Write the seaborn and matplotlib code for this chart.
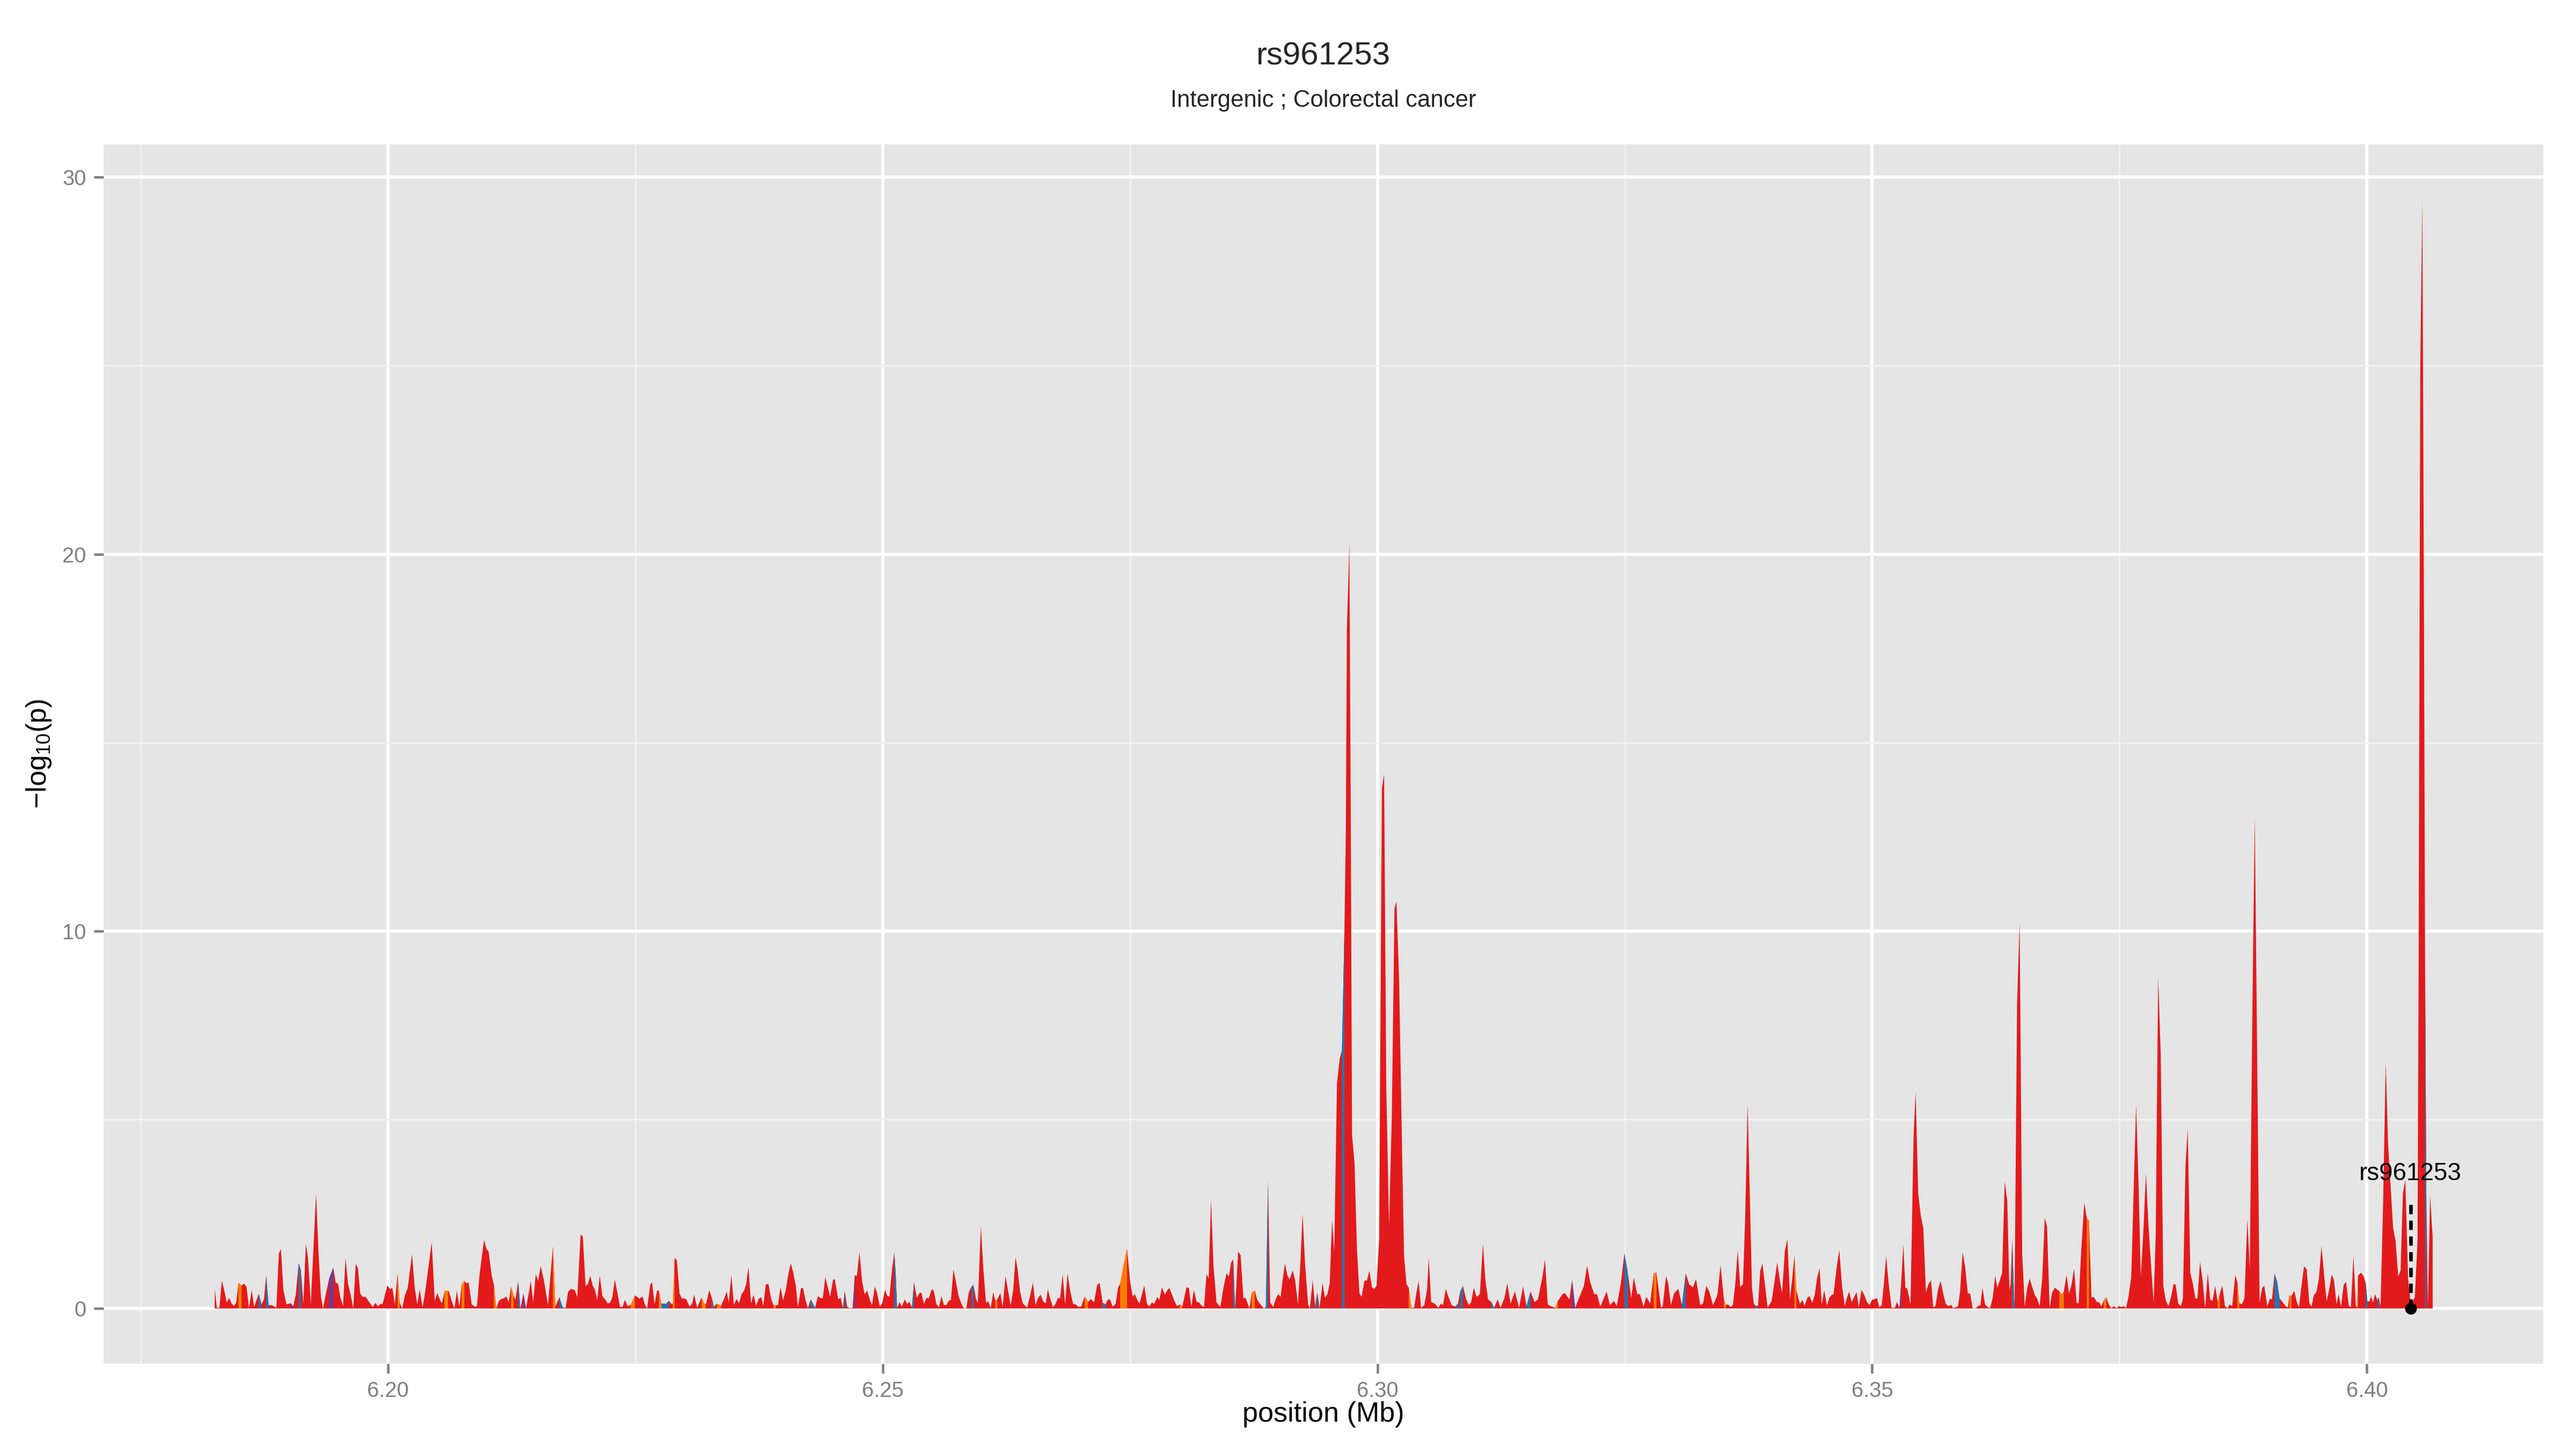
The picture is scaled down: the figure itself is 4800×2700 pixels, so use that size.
import numpy as np
import matplotlib
matplotlib.use("Agg")
import matplotlib.pyplot as plt
import seaborn as sns
from matplotlib.ticker import MultipleLocator, FormatStrFormatter

# SNP positions (kb on chr20) and -log10(p)
pos_kb = [
    6182.47, 6182.69, 6182.94, 6183.19, 6183.41, 6183.69, 6183.94, 6184.19, 6184.43, 6184.65,
    6184.87, 6185.18, 6185.43, 6185.68, 6185.93, 6186.21, 6186.45, 6186.92, 6187.20, 6187.45,
    6187.67, 6187.92, 6188.23, 6188.70, 6188.95, 6189.16, 6189.41, 6189.72, 6190.16, 6190.40,
    6190.65, 6190.96, 6191.18, 6191.43, 6191.68, 6191.90, 6192.18, 6192.43, 6192.71, 6192.96,
    6193.20, 6193.42, 6193.67, 6194.04, 6194.45, 6194.70, 6194.94, 6195.16, 6195.44, 6195.69,
    6195.94, 6196.22, 6196.47, 6196.72, 6196.94, 6197.18, 6197.43, 6197.71, 6197.93, 6198.43,
    6198.71, 6198.96, 6199.21, 6199.42, 6199.92, 6200.20, 6200.42, 6200.67, 6200.95, 6201.16,
    6201.41, 6201.69, 6201.97, 6202.41, 6202.69, 6202.94, 6203.19, 6203.47, 6203.71, 6203.93,
    6204.40, 6204.71, 6204.96, 6205.27, 6205.43, 6205.71, 6206.11, 6206.51, 6206.70, 6206.95,
    6207.20, 6207.42, 6207.70, 6207.91, 6208.13, 6208.44, 6208.75, 6208.97, 6209.22, 6209.69,
    6209.93, 6210.15, 6210.46, 6210.68, 6210.93, 6211.18, 6211.43, 6211.68, 6211.96, 6212.17,
    6212.42, 6212.67, 6212.86, 6213.14, 6213.36, 6213.67, 6213.92, 6214.17, 6214.41, 6214.66,
    6214.91, 6215.16, 6215.41, 6215.75, 6216.15, 6216.65, 6216.90, 6217.31, 6217.62, 6217.93,
    6218.18, 6218.46, 6218.86, 6219.11, 6219.45, 6219.67, 6219.95, 6220.20, 6220.42, 6220.67,
    6220.88, 6221.13, 6221.38, 6221.66, 6221.97, 6222.19, 6222.44, 6222.66, 6222.90, 6223.15,
    6223.43, 6223.68, 6223.93, 6224.21, 6224.52, 6224.93, 6225.40, 6225.71, 6225.93, 6226.17,
    6226.48, 6226.67, 6226.92, 6227.17, 6227.36, 6227.61, 6228.05, 6228.36,
    6228.64, 6228.77, 6228.95, 6229.18, 6229.44, 6229.68, 6229.94, 6230.14, 6230.45, 6230.71,
    6230.92, 6231.23, 6231.67, 6231.93, 6232.14, 6232.45, 6232.71, 6232.91, 6233.22, 6233.64,
    6233.95, 6234.21, 6234.42, 6234.68, 6234.94, 6235.20, 6235.46, 6235.71, 6235.97, 6236.18,
    6236.41, 6236.67, 6236.93, 6237.19, 6237.45, 6237.71, 6237.91, 6238.17, 6238.43, 6238.69,
    6238.95, 6239.18, 6239.39, 6239.65, 6239.91, 6240.17, 6240.42, 6240.68, 6240.94, 6241.20,
    6241.41, 6241.72, 6241.93, 6242.19, 6242.42, 6242.70, 6243.15, 6243.43, 6243.66, 6243.92,
    6244.18, 6244.41, 6244.67, 6244.96, 6245.14, 6245.48, 6245.74, 6245.94, 6246.15, 6246.38,
    6246.64, 6246.95, 6247.16, 6247.37, 6247.63, 6247.89, 6248.15, 6248.41, 6248.67, 6248.90,
    6249.18, 6249.39, 6249.70, 6249.93, 6250.22, 6250.45, 6250.66, 6250.92, 6251.15, 6251.30,
    6251.43, 6251.69, 6251.90, 6252.21, 6252.47, 6252.68, 6252.93, 6253.14, 6253.43, 6253.69,
    6253.89, 6254.15, 6254.41, 6254.62, 6254.93, 6255.14, 6255.40, 6255.66, 6255.91, 6256.17,
    6256.41, 6256.69, 6256.87, 6257.13, 6257.39, 6257.65, 6257.91, 6258.17, 6258.43, 6258.69,
    6258.95, 6259.15, 6259.39, 6259.59, 6259.90, 6260.16, 6260.42, 6260.63, 6260.89, 6261.15,
    6261.35, 6261.56, 6261.87, 6262.10, 6262.39, 6262.65, 6262.91, 6263.17, 6263.40, 6263.61,
    6263.87, 6264.13, 6264.57, 6264.85, 6265.16, 6265.42, 6265.68, 6265.94, 6266.20, 6266.46,
    6266.67, 6266.92, 6267.17, 6267.42, 6267.67, 6267.92, 6268.16, 6268.41, 6268.66, 6268.91,
    6269.22, 6269.47, 6269.78, 6270.03, 6270.40, 6270.72, 6271.03, 6271.34, 6271.65, 6271.90,
    6272.21, 6272.49, 6272.74, 6272.96, 6273.21, 6273.52, 6273.77, 6273.98, 6274.36, 6274.67,
    6274.98, 6275.23, 6275.45, 6275.70, 6275.94, 6276.19, 6276.41, 6276.69, 6276.94, 6277.19,
    6277.41, 6277.72, 6277.94, 6278.19, 6278.50, 6278.75, 6278.96, 6279.21, 6279.49, 6279.74,
    6279.99, 6280.27, 6280.67, 6280.92, 6281.17, 6281.42, 6281.70, 6281.95, 6282.23, 6282.45,
    6282.70, 6282.92, 6283.16, 6283.41, 6283.72, 6284.10, 6284.41, 6284.72, 6284.97, 6285.19,
    6285.40, 6285.59, 6285.90, 6286.15, 6286.43, 6286.65, 6287.05, 6287.27, 6287.58, 6287.83,
    6288.14, 6288.52, 6288.70, 6288.92, 6289.14, 6289.45, 6289.70, 6289.95, 6290.20, 6290.38,
    6290.63, 6290.88, 6291.10, 6291.41, 6291.66, 6291.94, 6292.19, 6292.41, 6292.66, 6292.97,
    6293.15, 6293.43, 6293.68, 6293.90, 6294.12, 6294.43, 6294.68, 6294.93, 6295.15, 6295.39,
    6295.61,
    6295.89, 6296.17, 6296.39, 6296.64, 6296.78, 6296.89, 6297.14, 6297.28, 6297.41, 6297.66,
    6297.91, 6298.16, 6298.38, 6298.66, 6298.91, 6299.16, 6299.43, 6299.68, 6299.88, 6300.15,
    6300.43, 6300.65, 6300.87, 6301.15, 6301.43, 6301.70, 6301.90, 6302.17, 6302.45, 6302.67,
    6302.92, 6303.14, 6303.42, 6303.69, 6303.89, 6304.14, 6304.39, 6304.72, 6305.00, 6305.16,
    6305.41, 6305.77, 6306.13, 6306.40, 6306.60, 6306.88, 6307.15, 6307.48, 6307.84, 6308.12,
    6308.34, 6308.62, 6308.95, 6309.23, 6309.45, 6309.72, 6310.00, 6310.33, 6310.64, 6310.89,
    6311.16, 6311.49, 6311.77, 6312.13, 6312.41, 6312.82, 6313.10, 6313.43, 6313.87, 6314.29,
    6314.70, 6315.04, 6315.45, 6315.86, 6316.20, 6316.64, 6316.91, 6317.19, 6317.52, 6317.94,
    6318.21, 6318.68, 6318.91, 6319.38, 6319.65, 6319.96, 6320.29, 6320.84, 6321.17, 6321.48,
    6321.89, 6322.17, 6322.50, 6323.14, 6323.47, 6323.89, 6324.16, 6324.58, 6324.94, 6325.27,
    6325.63, 6325.88, 6326.24, 6326.51, 6326.87, 6327.15, 6327.54, 6327.90, 6328.17, 6328.64,
    6328.81, 6329.14, 6329.36, 6329.64, 6329.97, 6330.39, 6330.75, 6331.13, 6331.49, 6331.85,
    6332.18, 6332.60, 6332.88, 6333.21, 6333.51, 6333.90, 6334.26,
    6334.35, 6334.65, 6334.98, 6335.18, 6335.40, 6335.67, 6335.90, 6336.14, 6336.39, 6336.64,
    6336.92, 6337.14, 6337.39, 6337.61, 6337.83, 6338.02, 6338.22, 6338.44, 6338.66, 6338.88,
    6339.13, 6339.41, 6339.82, 6340.10, 6340.38, 6340.65, 6340.87, 6341.15, 6341.40, 6341.68,
    6341.90, 6342.12, 6342.31, 6342.67, 6342.92, 6343.14, 6343.42, 6343.64, 6343.92, 6344.17,
    6344.41, 6344.66, 6344.88, 6345.13, 6345.41, 6345.63, 6345.91, 6346.07, 6346.38, 6346.65,
    6346.93, 6347.21, 6347.43, 6347.65, 6347.90, 6348.12, 6348.40, 6348.62, 6348.90, 6349.17,
    6349.45, 6349.70, 6349.97, 6350.25, 6350.47, 6350.69, 6350.94, 6351.16, 6351.38, 6351.66,
    6351.94, 6352.27, 6352.49, 6352.74, 6352.91, 6353.13,
    6353.33, 6353.52, 6353.85, 6354.16, 6354.37, 6354.63, 6354.89, 6355.15, 6355.41, 6355.67,
    6355.93, 6356.14, 6356.37, 6356.63, 6356.89, 6357.15, 6357.41, 6357.67, 6357.93, 6358.18,
    6358.65, 6358.86, 6359.12, 6359.38, 6359.64, 6359.87, 6360.13, 6360.47, 6360.73, 6360.91,
    6361.12, 6361.38, 6361.63, 6361.89, 6362.15, 6362.41, 6362.62, 6362.88, 6363.11, 6363.37,
    6363.63, 6363.84, 6363.97, 6364.13, 6364.36, 6364.62, 6364.88, 6365.14, 6365.40, 6365.66,
    6365.91, 6366.17, 6366.43, 6366.64, 6366.90, 6367.16, 6367.42, 6367.65, 6367.91, 6368.17,
    6368.43, 6368.69, 6368.90, 6369.16, 6369.34, 6369.62, 6369.88, 6370.12, 6370.38, 6370.64,
    6370.84, 6371.10, 6371.41, 6371.67, 6371.88, 6372.14, 6372.40, 6372.66, 6372.92, 6373.13,
    6373.39, 6373.62, 6373.88, 6374.14, 6374.40, 6374.66, 6374.92, 6375.17, 6375.43, 6375.64,
    6375.90, 6376.16, 6376.42, 6376.65, 6376.91, 6377.12, 6377.38, 6377.64, 6377.90, 6378.16,
    6378.42, 6378.63, 6378.88, 6379.14, 6379.40, 6379.66, 6379.92, 6380.18, 6380.44, 6380.65,
    6380.91, 6381.17, 6381.38, 6381.64, 6381.87, 6382.13, 6382.39, 6382.65, 6382.85, 6383.11,
    6383.37, 6383.63, 6383.89, 6384.15, 6384.38, 6384.64, 6384.90, 6385.11, 6385.37, 6385.63,
    6385.89, 6386.10, 6386.36, 6386.67, 6386.88, 6387.08, 6387.34, 6387.60, 6387.89, 6388.14,
    6388.40, 6388.64, 6388.87, 6389.13, 6389.39, 6389.60, 6389.91, 6390.17, 6390.38, 6390.64,
    6390.89, 6391.15,
    6391.54, 6391.81, 6391.99, 6392.14, 6392.35, 6392.63, 6392.90, 6393.11, 6393.35, 6393.62,
    6393.89, 6394.16, 6394.38, 6394.61, 6394.88, 6395.12, 6395.39, 6395.61, 6395.90, 6396.15,
    6396.42, 6396.64, 6396.91, 6397.11, 6397.36, 6397.63, 6397.87, 6398.14, 6398.35, 6398.62,
    6398.86, 6398.99, 6399.08, 6399.37, 6399.62, 6399.85, 6400.03, 6400.25, 6400.40, 6400.58,
    6400.81, 6401.03, 6401.17, 6401.35, 6401.61, 6401.88, 6402.11, 6402.62, 6402.87, 6403.14,
    6403.38, 6403.61, 6403.86, 6404.14, 6404.37, 6404.59, 6404.82, 6405.09, 6405.20, 6405.37,
    6405.58, 6405.75, 6405.85, 6405.98, 6406.14, 6406.36, 6406.62,
]

neg_log10_p = [
    0.51, 0.02, 0.02, 0.74, 0.51, 0.16, 0.28, 0.12, 0.07, 0.16,
    0.68, 0.61, 0.66, 0.58, 0.01, 0.49, 0.04, 0.39, 0.11, 0.25,
    0.88, 0.09, 0.09, 0.02, 1.46, 1.58, 0.49, 0.11, 0.14, 0.06,
    0.35, 1.20, 1.01, 0.13, 1.72, 1.34, 0.13, 1.49, 3.06, 1.49,
    0.32, 0.00, 0.35, 0.80, 1.08, 0.68, 0.66, 0.30, 0.06, 1.34,
    0.66, 0.35, 0.01, 1.18, 1.08, 0.39, 0.31, 0.31, 0.23, 0.04,
    0.15, 0.06, 0.12, 0.11, 0.61, 0.51, 0.55, 0.11, 0.93, 0.16,
    0.00, 0.35, 0.54, 1.44, 0.54, 0.11, 0.51, 0.03, 0.39, 0.82,
    1.76, 0.20, 0.41, 0.21, 0.14, 0.47, 0.47, 0.13, 0.01, 0.47,
    0.04, 0.63, 0.73, 0.67, 0.69, 0.11, 0.05, 0.06, 0.87, 1.82,
    1.58, 1.51, 0.88, 0.63, 0.00, 0.20, 0.25, 0.27, 0.32, 0.16,
    0.58, 0.35, 0.23, 0.73, 0.00, 0.40, 0.00, 0.35, 0.73, 0.16,
    0.91, 0.73, 1.13, 0.73, 0.09, 1.65, 0.06, 0.30, 0.04, 0.01,
    0.44, 0.52, 0.49, 0.30, 1.96, 1.91, 0.59, 0.66, 0.87, 0.61,
    0.51, 0.23, 0.87, 0.32, 0.23, 0.13, 0.16, 0.30, 0.77, 0.44,
    0.04, 0.04, 0.23, 0.06, 0.10, 0.35, 0.26, 0.32, 0.11, 0.00,
    0.63, 0.70, 0.11, 0.47, 0.48, 0.12, 0.12, 0.20,
    0.12, 0.12, 1.35, 1.27, 0.40, 0.26, 0.27, 0.24, 0.05, 0.12,
    0.37, 0.02, 0.29, 0.13, 0.13, 0.49, 0.28, 0.05, 0.13, 0.07,
    0.26, 0.45, 0.16, 0.89, 0.09, 0.25, 0.14, 0.38, 0.47, 0.65,
    1.10, 0.14, 0.36, 0.07, 0.26, 0.30, 0.07, 0.64, 0.65, 0.27,
    0.08, 0.09, 0.09, 0.57, 0.22, 0.47, 0.88, 1.20, 0.95, 0.60,
    0.03, 0.54, 0.54, 0.21, 0.01, 0.24, 0.02, 0.33, 0.28, 0.27,
    0.83, 0.59, 0.31, 0.77, 0.77, 0.25, 0.28, 0.02, 0.46, 0.05,
    0.01, 0.02, 0.88, 0.86, 1.50, 0.74, 0.38, 0.47, 0.24, 0.09,
    0.58, 0.43, 0.05, 0.14, 0.50, 0.33, 0.32, 1.04, 1.49, 0.88,
    0.02, 0.17, 0.05, 0.24, 0.12, 0.18, 0.02, 0.70, 0.28, 0.41,
    0.42, 0.12, 0.29, 0.26, 0.51, 0.47, 0.12, 0.03, 0.33, 0.09,
    0.09, 0.22, 0.22, 1.04, 0.69, 0.33, 0.14, 0.01, 0.01, 0.44,
    0.58, 0.63, 0.27, 0.14, 2.18, 1.02, 0.14, 0.20, 0.01, 0.43,
    0.21, 0.24, 0.41, 0.03, 0.86, 0.47, 0.08, 0.50, 1.36, 1.04,
    0.43, 0.14, 0.02, 0.31, 0.69, 0.09, 0.28, 0.37, 0.18, 0.14,
    0.51, 0.25, 0.04, 0.11, 0.27, 0.28, 0.91, 0.11, 0.93, 0.49,
    0.12, 0.11, 0.04, 0.05, 0.32, 0.17, 0.25, 0.16, 0.63, 0.68,
    0.15, 0.11, 0.24, 0.24, 0.05, 0.12, 0.56, 0.66, 1.20, 1.58,
    0.73, 0.32, 0.38, 0.23, 0.13, 0.39, 0.61, 0.11, 0.06, 0.16,
    0.12, 0.30, 0.23, 0.56, 0.37, 0.49, 0.54, 0.37, 0.18, 0.06,
    0.11, 0.06, 0.56, 0.55, 0.04, 0.49, 0.18, 0.16, 0.07, 0.04,
    0.91, 0.80, 2.89, 1.11, 0.16, 0.04, 0.54, 0.93, 0.85, 1.23,
    1.30, 0.00, 1.51, 1.41, 0.28, 0.28, 0.00, 0.42, 0.48, 0.23,
    0.11, 0.00, 0.05, 3.39, 0.16, 0.04, 0.25, 0.38, 0.31, 0.73,
    1.20, 0.87, 0.77, 1.01, 0.75, 0.11, 1.20, 2.51, 1.20, 0.11,
    0.00, 0.75, 0.06, 0.44, 0.00, 0.68, 0.28, 0.39, 0.66, 2.34,
    1.51,
    5.98, 6.63, 6.85, 10.00, 12.60, 18.00, 20.30, 13.20, 4.60, 3.87,
    1.55, 0.40, 0.31, 0.74, 0.74, 1.00, 0.56, 0.52, 0.60, 1.84,
    13.80, 14.17, 5.90, 2.20, 5.10, 10.60, 10.80, 8.70, 4.45, 1.38,
    0.64, 0.55, 0.02, 0.02, 0.38, 0.73, 0.02, 0.09, 0.52, 1.34,
    0.17, 0.13, 0.02, 0.13, 0.09, 0.52, 0.31, 0.09, 0.05, 0.13,
    0.45, 0.60, 0.24, 0.09, 0.17, 0.55, 0.31, 0.38, 1.72, 0.74,
    0.24, 0.17, 0.02, 0.24, 0.02, 0.28, 0.67, 0.13, 0.45, 0.02,
    0.59, 0.06, 0.45, 0.17, 0.24, 0.82, 1.30, 0.11, 0.06, 0.02,
    0.20, 0.38, 0.41, 0.24, 0.76, 0.02, 0.24, 0.60, 1.14, 0.70,
    0.38, 0.38, 0.05, 0.45, 0.09, 0.20, 0.06, 0.67, 1.47, 0.96,
    0.28, 0.82, 0.38, 0.38, 0.05, 0.31, 0.13, 0.93, 0.96, 0.02,
    0.06, 0.86, 0.67, 0.09, 0.41, 0.52, 0.09, 0.93, 0.64, 0.56,
    0.78, 0.09, 0.13, 0.60, 0.45, 0.09, 0.31,
    0.39, 1.15, 0.28, 0.09, 0.11, 0.04, 0.09, 0.65, 1.55, 0.57,
    0.65, 2.39, 5.41, 3.02, 0.54, 0.12, 0.07, 0.07, 0.99, 1.20,
    0.65, 0.02, 0.20, 0.70, 1.22, 0.75, 0.41, 1.52, 1.84, 0.25,
    0.81, 1.40, 0.49, 0.12, 0.23, 0.07, 0.28, 0.33, 0.15, 0.36,
    0.81, 1.07, 0.11, 0.48, 0.08, 0.28, 0.37, 0.37, 1.07, 1.56,
    0.60, 0.07, 0.28, 0.45, 0.17, 0.28, 0.44, 0.03, 0.50, 0.36,
    0.17, 0.09, 0.23, 0.25, 0.28, 0.03, 0.09, 0.65, 1.39, 0.62,
    0.02, 0.02, 0.17, 0.02, 0.70, 1.70,
    0.55, 0.53, 0.11, 4.57, 5.75, 3.05, 2.46, 2.12, 0.43, 0.65,
    0.75, 0.03, 0.06, 0.50, 0.73, 0.40, 0.13, 0.06, 0.10, 0.01,
    0.06, 0.45, 1.50, 1.09, 0.40, 0.40, 0.01, 0.01, 0.08, 0.08,
    0.55, 0.11, 0.04, 0.01, 0.27, 0.87, 0.55, 0.75, 0.94, 3.37,
    2.86, 0.50, 0.65, 1.84, 0.00, 8.10, 10.25, 1.43, 0.06, 0.57,
    0.79, 0.55, 0.35, 0.27, 0.06, 0.79, 2.41, 2.17, 0.01, 0.43,
    0.55, 0.50, 0.45, 0.37, 0.45, 0.89, 0.40, 0.63, 1.06, 0.16,
    0.13, 1.53, 2.81, 2.39, 2.34, 0.30, 0.30, 0.18, 0.16, 0.06,
    0.21, 0.30, 0.11, 0.01, 0.06, 0.01, 0.06, 0.04, 0.06, 0.01,
    0.35, 0.84, 3.30, 5.41, 3.20, 0.84, 2.02, 3.59, 2.22, 1.14,
    0.16, 1.92, 8.79, 6.73, 0.60, 0.21, 0.06, 0.30, 0.65, 0.63,
    0.13, 0.06, 0.26, 3.79, 4.77, 0.94, 0.65, 0.26, 0.27, 1.24,
    0.75, 0.01, 0.94, 0.23, 0.21, 0.60, 0.16, 0.40, 0.60, 0.06,
    0.01, 0.11, 0.06, 0.89, 0.70, 0.14, 0.11, 0.27, 2.37, 1.06,
    7.91, 13.06, 7.12, 0.16, 0.55, 0.60, 0.06, 0.26, 0.24, 0.92,
    0.73, 0.27,
    0.14, 0.05, 0.03, 0.35, 0.33, 0.47, 0.16, 0.04, 0.57, 1.12,
    1.04, 0.14, 0.05, 0.35, 0.44, 0.79, 1.66, 1.01, 0.19, 0.49,
    0.90, 0.76, 0.11, 0.38, 0.05, 0.63, 0.71, 0.08, 0.03, 1.39,
    0.05, 0.05, 0.87, 0.95, 0.87, 0.68, 0.19, 0.19, 0.33, 0.16,
    0.38, 0.22, 0.30, 0.05, 2.76, 6.55, 4.39, 2.15, 1.80, 0.85,
    1.01, 3.05, 3.41, 0.79, 0.22, 0.19, 0.30, 1.77, 9.00, 25.00,
    29.40, 18.00, 9.50, 3.00, 0.05, 3.00, 1.90,
]

# SNPs whose segment is coloured by a non-red LD class (all others are red)
blue_kb = [6186.92, 6187.67, 6190.96, 6213.14, 6217.31, 6227.61, 6228.05, 6232.71,
           6242.70, 6245.94, 6251.15, 6251.30, 6252.93, 6258.95, 6272.21, 6285.40,
           6288.70, 6293.68, 6296.39, 6307.84, 6308.34, 6311.49, 6315.04, 6324.94,
           6330.75, 6338.22, 6364.13, 6390.64, 6390.89, 6399.85, 6401.03, 6405.85]
orange_kb = [6184.87, 6200.95, 6205.71, 6207.42, 6210.68, 6212.42, 6216.65, 6224.52,
             6227.36, 6228.77, 6231.67, 6231.93, 6233.22, 6238.95, 6261.35, 6270.40,
             6273.98, 6274.36, 6279.99, 6287.27, 6303.14, 6317.94, 6327.90, 6334.98,
             6342.12, 6368.90, 6369.16, 6371.67, 6373.39, 6384.90, 6386.88, 6392.14,
             6398.99]
purple_kb = [6190.16, 6194.04, 6213.67, 6246.95, 6319.65, 6352.74]

index_snp = "rs961253"
index_snp_kb = 6404.41
subtitle = "Intergenic ; Colorectal cancer"

RED = "#E31A1C"
ld_colors = {"blue": "#1F78B4", "orange": "#FF7F00", "purple": "#6A3D9A"}
ld_members = {"blue": blue_kb, "orange": orange_kb, "purple": purple_kb}

sns.set_theme(style="darkgrid", rc={"axes.facecolor": "#E5E5E5"})
plt.rcParams["font.family"] = ["Liberation Sans", "DejaVu Sans"]

pos = np.array(pos_kb)
y = np.array(neg_log10_p)
assert len(pos) == len(y)
x = pos / 1000.0

fig = plt.figure(figsize=(16, 9), dpi=300)
ax = fig.add_axes([0.0402, 0.0589, 0.9471, 0.8415])
ax.set_facecolor("#E5E5E5")

ax.fill_between(x, 0, y, color=RED, linewidth=0, zorder=2)
for name, members in ld_members.items():
    idx = np.where(np.isin(np.round(pos, 2), np.round(members, 2)))[0]
    for i in idx:
        ax.fill_between(x[i:i + 2], 0, y[i:i + 2], color=ld_colors[name],
                        linewidth=0, zorder=3)

# index SNP marker
snp_x = index_snp_kb / 1000.0
ax.plot([snp_x, snp_x], [0, 2.91], color="black", lw=1.6,
        linestyle=(0, (2.6, 1.8)), zorder=5)
sns.scatterplot(x=[snp_x], y=[0], color="black", s=28, linewidth=0, ax=ax, zorder=6)
ax.text(snp_x, 3.40, index_snp, ha="center", va="baseline", fontsize=11,
        color="black", zorder=7)

xr = x.max() - x.min()
ax.set_xlim(x.min() - 0.05 * xr, x.max() + 0.05 * xr)
ax.set_ylim(-0.05 * y.max(), 1.05 * y.max())

ax.xaxis.set_major_locator(MultipleLocator(0.05))
ax.xaxis.set_minor_locator(MultipleLocator(0.025))
ax.xaxis.set_major_formatter(FormatStrFormatter("%.2f"))
ax.yaxis.set_major_locator(MultipleLocator(10))
ax.yaxis.set_minor_locator(MultipleLocator(5))

ax.set_axisbelow(True)
ax.grid(which="major", color="white", linewidth=1.45)
ax.grid(which="minor", color="#F2F2F2", linewidth=0.7)
for s in ax.spines.values():
    s.set_visible(False)

ax.tick_params(which="major", length=4.3, width=1.1, color="#7F7F7F",
               labelcolor="#7F7F7F", labelsize=9.6, pad=3.4,
               bottom=True, left=True)
ax.tick_params(which="minor", length=0)

ax.set_xlabel("position (Mb)", fontsize=12.5, color="black")
ax.xaxis.set_label_coords(0.5, -0.0418)
ax.xaxis.label.set_verticalalignment("center")
ax.set_ylabel(r"$\mathregular{-log_{10}(p)}$", fontsize=12.5, color="black")
ax.yaxis.set_label_coords(-0.0266, 0.5)
ax.yaxis.label.set_verticalalignment("center")

fig.text(0.5137, 0.9553, index_snp, ha="center", va="baseline", fontsize=14.4)
fig.text(0.5137, 0.9263, subtitle, ha="center", va="baseline", fontsize=10.5)

fig.savefig("out.png", dpi=300)
plt.close(fig)
